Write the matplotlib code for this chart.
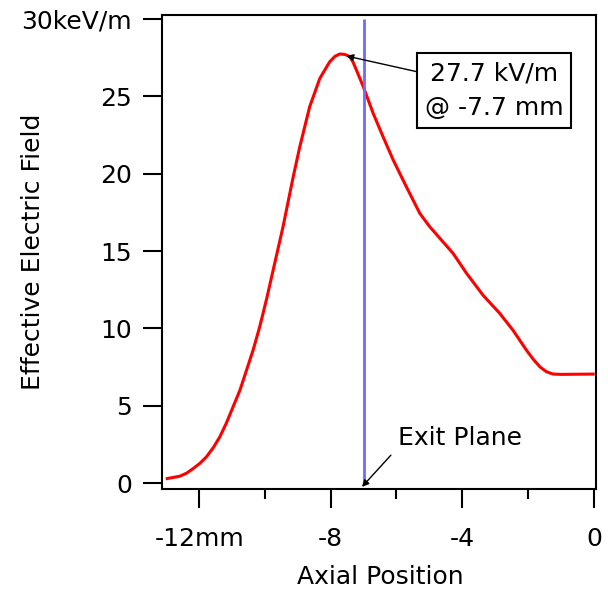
import matplotlib.pyplot as plt

plt.rcParams['font.family'] = ['DejaVu Sans']
plt.rcParams['font.size'] = 18

# axial position (mm) and effective field (kV/m)
position = [-12.97, -12.59, -12.38, -12.18, -11.98, -11.78, -11.57, -11.37, -11.17, -10.97,
            -10.76, -10.56, -10.36, -10.16, -9.95, -9.75, -9.45, -9.14, -8.94, -8.64,
            -8.33, -8.03, -7.87, -7.72, -7.57, -7.42, -7.32, -7.22, -7.01, -6.71,
            -6.41, -6.10, -5.70, -5.29, -4.99, -4.68, -4.28, -3.87, -3.37, -2.86,
            -2.46, -2.05, -1.84, -1.64, -1.44, -1.24, -1.0, -0.02]
field = [0.30, 0.45, 0.65, 0.95, 1.28, 1.70, 2.30, 3.0, 3.9, 4.93,
         6.01, 7.30, 8.60, 10.1, 11.9, 13.77, 16.57, 19.8, 21.74, 24.32,
         26.16, 27.23, 27.58, 27.73, 27.7, 27.56, 27.2, 26.7, 25.62, 23.9,
         22.39, 20.88, 19.15, 17.43, 16.57, 15.82, 14.85, 13.56, 12.15, 10.97,
         9.89, 8.60, 8.0, 7.52, 7.2, 7.05, 7.03, 7.05]

peak_x = -7.7
peak_y = 27.7
exit_plane = -7.0

x_ticks = [-12, -8, -4, 0]
x_labels = ['-12mm', '-8', '-4', '0']
x_minor = [-10, -6, -2]
y_ticks = [0, 5, 10, 15, 20, 25, 30]
y_labels = ['0', '5', '10', '15', '20', '25', '30keV/m']

fig = plt.figure(figsize=(6.08, 5.93), dpi=100)
ax = fig.add_axes([0.267, 0.175, 0.714, 0.80])

ax.plot(position, field, color='red', lw=2.2, solid_joinstyle='round')
ax.vlines(exit_plane, 0, 30, color='#6b6bff', lw=2)

ax.set_xlim(-13.12, 0.08)
ax.set_ylim(-0.39, 30.26)
ax.set_xticks(x_ticks)
ax.set_xticklabels(x_labels)
ax.set_xticks(x_minor, minor=True)
ax.set_yticks(y_ticks)
ax.set_yticklabels(y_labels)
ax.tick_params(which='major', direction='out', length=14, width=1.5)
ax.tick_params(which='minor', direction='out', length=7, width=1.5)
ax.tick_params(axis='y', pad=8)
ax.tick_params(axis='x', which='major', pad=13)
for s in ax.spines.values():
    s.set_linewidth(1.5)

ax.set_xlabel('Axial Position')
ax.set_ylabel('Effective Electric Field')
ax.xaxis.set_label_coords(0.501, -0.16)
ax.yaxis.set_label_coords(-0.27, 0.5)

ax.text(-3.04, 25.37, '%.1f kV/m\n@ %.1f mm' % (peak_y, peak_x), ha='center', va='center',
        linespacing=1.55,
        bbox=dict(boxstyle='square,pad=0.32', fc='white', ec='black', lw=1.5))
ax.annotate('', xy=(peak_x + 0.18, peak_y - 0.1), xytext=(-5.41, 26.6),
            arrowprops=dict(arrowstyle='-|>', color='black', lw=1, mutation_scale=10,
                            shrinkA=0, shrinkB=0))

ax.text(-5.95, 2.91, 'Exit Plane', ha='left', va='center')
ax.annotate('', xy=(exit_plane - 0.05, -0.24), xytext=(-6.17, 1.81),
            arrowprops=dict(arrowstyle='-|>', color='black', lw=1, mutation_scale=10,
                            shrinkA=0, shrinkB=0))

fig.savefig('out.png', dpi=100)
